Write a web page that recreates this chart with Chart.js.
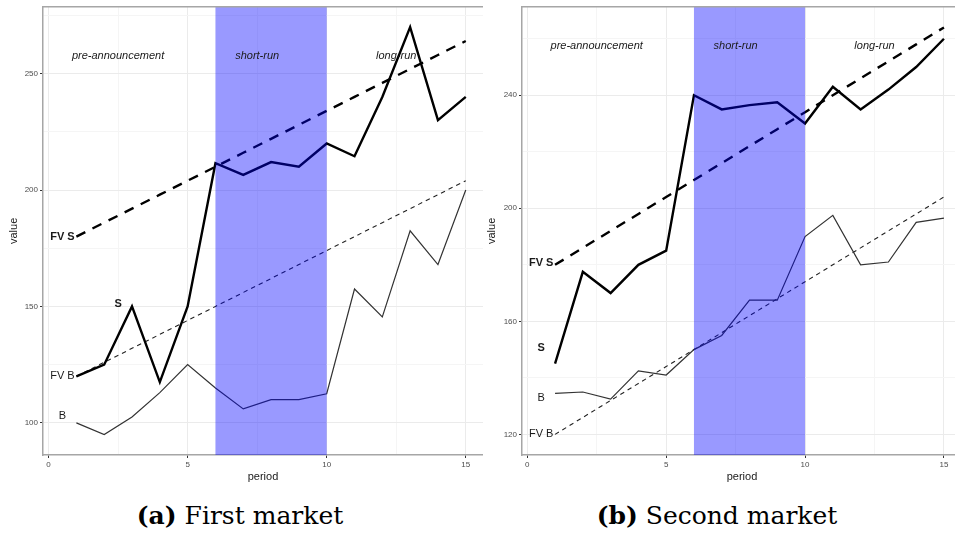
<!DOCTYPE html>
<html>
<head>
<meta charset="utf-8">
<script src="https://cdn.jsdelivr.net/npm/chart.js@4.4.0/dist/chart.umd.min.js"></script>
<style>
    html, body { margin: 0; padding: 0; background: #fff; width: 955px; height: 535px; overflow: hidden; }
    .panel { position: absolute; top: 0; height: 488px; }
    #wrapA { left: 0; width: 483px; }
    #wrapB { left: 478px; width: 484px; }
    .caption { position: absolute; top: 501px; font-family: 'DejaVu Serif', serif; font-size: 25px; color: #000; white-space: nowrap; transform: translateX(-50%); }
</style>
</head>
<body>
<div class="panel" id="wrapA"><canvas id="chartA"></canvas></div>
<div class="panel" id="wrapB"><canvas id="chartB"></canvas></div>
<div class="caption" style="left:240px"><b>(a)</b> First market</div>
<div class="caption" style="left:717px"><b>(b)</b> Second market</div>

<script>
// ---- data ----
const periods = [1, 2, 3, 4, 5, 6, 7, 8, 9, 10, 11, 12, 13, 14, 15];

// fundamental values (same in both markets)
const fvS = [180, 186, 192, 198, 204, 210, 216, 222, 228, 234, 240, 246, 252, 258, 264];
const fvB = [120, 126, 132, 138, 144, 150, 156, 162, 168, 174, 180, 186, 192, 198, 204];

// first market prices
const m1S = [120, 125, 150, 117.5, 150, 211.5, 206.5, 212, 210, 220, 214.5, 240, 270, 230, 240];
const m1B = [100, 95, 102.5, 113, 125, 115, 106, 110, 110, 112.5, 157.5, 145.5, 182.5, 168, 200];

// second market prices
const m2S = [145, 177.5, 170, 180, 185, 240, 235, 236.5, 237.5, 230, 243, 235, 242, 250, 260];
const m2B = [134.5, 135, 132.5, 142.5, 141, 150, 155, 167.5, 167.5, 190, 197.5, 180, 181, 195, 196.5];

// phases
const shortRun = [6, 10];
const phaseNames = ['pre-announcement', 'short-run', 'long-run'];
const phaseX = [2.5, 7.5, 12.5];

// ticks
const xMajor = [0, 5, 10, 15];
const xMinor = [2.5, 7.5, 12.5];
const yMajorA = [100, 150, 200, 250];
const yMinorA = [125, 175, 225, 275];
const yMajorB = [120, 160, 200, 240];
const yMinorB = [140, 180, 220, 260];

// series name labels [text, x, y, bold]
const labelsA = [['FV S', 0.5, 180, true], ['S', 2.5, 151, true], ['FV B', 0.5, 120, false], ['B', 0.5, 103, false]];
const labelsB = [['FV S', 0.5, 180.5, true], ['S', 0.5, 150.5, true], ['B', 0.5, 133, false], ['FV B', 0.5, 120, false]];

const FONT = "'Liberation Sans', Arial, sans-serif";

const pts = (arr) => periods.map((p, i) => ({ x: p, y: arr[i] }));

const overlayPlugin = {
    id: 'overlay',
    afterDatasetsDraw(chart, args, opts) {
        const { ctx, chartArea: a, scales: { x, y } } = chart;
        ctx.save();
        // shaded short-run window, drawn over the lines
        const x0 = x.getPixelForValue(shortRun[0]);
        const x1 = x.getPixelForValue(shortRun[1]);
        ctx.fillStyle = 'rgba(0,0,255,0.4)';
        ctx.fillRect(x0, a.top, x1 - x0, a.bottom - a.top);
        // top border
        ctx.strokeStyle = '#a6a6a6';
        ctx.lineWidth = 1.5;
        ctx.beginPath();
        ctx.moveTo(a.left, a.top);
        ctx.lineTo(a.right, a.top);
        ctx.stroke();
        // phase names
        ctx.fillStyle = '#1a1a1a';
        ctx.textAlign = 'center';
        ctx.textBaseline = 'middle';
        ctx.font = `italic 11px ${FONT}`;
        phaseNames.forEach((t, i) => ctx.fillText(t, x.getPixelForValue(phaseX[i]), y.getPixelForValue(opts.phaseY)));
        // series labels
        opts.labels.forEach(([t, lx, ly, bold]) => {
            ctx.font = `${bold ? 'bold ' : ''}11px ${FONT}`;
            ctx.fillText(t, x.getPixelForValue(lx), y.getPixelForValue(ly));
        });
        ctx.restore();
    }
};

function makeChart(id, s, b, cfg) {
    const majorX = (v) => xMajor.includes(v);
    const majorY = (v) => cfg.yMajor.includes(v);
    return new Chart(document.getElementById(id), {
        type: 'line',
        data: {
            datasets: [
                { data: pts(s), borderColor: '#000', borderWidth: 2.4 },
                { data: pts(fvS), borderColor: '#000', borderWidth: 2.4, borderDash: [10, 8] },
                { data: pts(b), borderColor: '#333', borderWidth: 1.2 },
                { data: pts(fvB), borderColor: '#222', borderWidth: 1.1, borderDash: [4.5, 4] },
            ]
        },
        options: {
            responsive: true,
            maintainAspectRatio: false,
            animation: false,
            layout: { padding: { top: 5, left: 0, right: 0, bottom: 0 } },
            elements: { point: { radius: 0 }, line: { tension: 0 } },
            plugins: {
                legend: { display: false },
                tooltip: { enabled: false },
                overlay: { labels: cfg.labels, phaseY: cfg.phaseY }
            },
            scales: {
                x: {
                    type: 'linear', min: cfg.xMin, max: cfg.xMax,
                    afterBuildTicks: (sc) => { sc.ticks = [...xMajor, ...xMinor].sort((p, q) => p - q).map(v => ({ value: v })); },
                    afterFit: (sc) => { sc.height = 33; },
                    ticks: { autoSkip: false, maxRotation: 0, padding: 2, color: '#4d4d4d', font: { family: FONT, size: 8 },
                        callback: (v) => majorX(v) ? v : '' },
                    grid: { color: (c) => majorX(c.tick.value) ? '#ebebeb' : '#f5f5f5', lineWidth: 1,
                        tickLength: 3, tickColor: (c) => majorX(c.tick.value) ? '#333' : 'rgba(0,0,0,0)' },
                    border: { display: true, color: '#a6a6a6', width: 1.5 },
                    title: { display: true, text: 'period', color: '#1a1a1a', font: { family: FONT, size: 11 }, padding: { top: 0, bottom: 4.5 } }
                },
                y: {
                    min: cfg.yMin, max: cfg.yMax,
                    afterBuildTicks: (sc) => { sc.ticks = [...cfg.yMajor, ...cfg.yMinor].sort((p, q) => p - q).map(v => ({ value: v })); },
                    afterFit: (sc) => { sc.width = cfg.yWidth; },
                    ticks: { autoSkip: false, padding: 2, color: '#4d4d4d', font: { family: FONT, size: 8 },
                        callback: (v) => majorY(v) ? v : '' },
                    grid: { color: (c) => majorY(c.tick.value) ? '#ebebeb' : '#f5f5f5', lineWidth: 1,
                        tickLength: 3, tickColor: (c) => majorY(c.tick.value) ? '#333' : 'rgba(0,0,0,0)' },
                    border: { display: true, color: '#a6a6a6', width: 1.5 },
                    title: { display: true, text: 'value', color: '#1a1a1a', font: { family: FONT, size: 11 }, padding: { top: 7.5, bottom: 0 } }
                }
            }
        },
        plugins: [overlayPlugin]
    });
}

makeChart('chartA', m1S, m1B, {
    xMin: -0.2, xMax: 15.62, yMin: 86.2, yMax: 278.7, yWidth: 43,
    yMajor: yMajorA, yMinor: yMinorA, labels: labelsA, phaseY: 257.5
});
makeChart('chartB', m2S, m2B, {
    xMin: -0.19, xMax: 15.65, yMin: 112.7, yMax: 271.3, yWidth: 44,
    yMajor: yMajorB, yMinor: yMinorB, labels: labelsB, phaseY: 257.6
});
</script>
</body>
</html>
